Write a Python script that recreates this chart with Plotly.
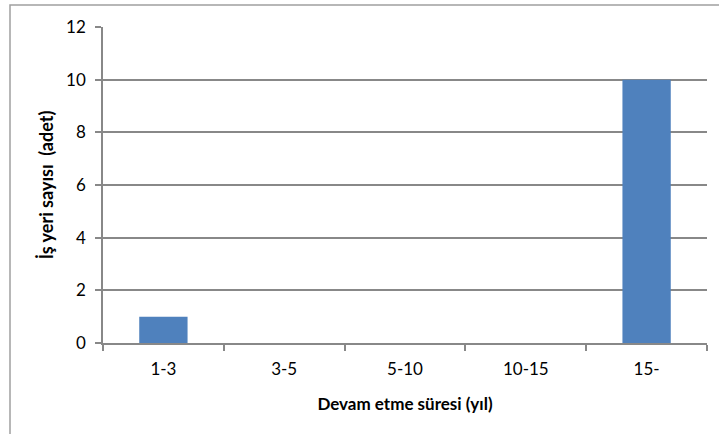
import plotly.graph_objects as go

categories = ["1-3", "3-5", "5-10", "10-15", "15-"]
values = [1, 0, 0, 0, 10]
y_ticks = [0, 2, 4, 6, 8, 10, 12]

W, H = 719, 434
L, R, T, B = 103, 12, 27, 91
pw = W - L - R
ph = H - T - B

fig = go.Figure(go.Bar(x=categories, y=values, marker=dict(color="#4F81BD", line=dict(width=0)), width=0.4))

font = "Lato, 'Open Sans', sans-serif"
fig.update_layout(
    width=W, height=H,
    margin=dict(l=L, r=R, t=T, b=B, autoexpand=False),
    paper_bgcolor="white", plot_bgcolor="white",
    font=dict(family=font, size=17, color="black"),
    showlegend=False,
    xaxis=dict(
        automargin=False,
        showline=True, linecolor="#888888", linewidth=1.5,
        ticks="outside", tickson="boundaries", ticklen=6, tickcolor="#888888", tickwidth=1.5,
        showgrid=False, ticklabelstandoff=10,
        title=dict(text="<b>Devam etme süresi (yıl)</b>", font=dict(size=17), standoff=20),
    ),
    yaxis=dict(
        automargin=False,
        range=[0, 12], tickvals=y_ticks,
        showline=True, linecolor="#888888", linewidth=1.5,
        ticks="outside", ticklen=6, tickcolor="#888888", tickwidth=1.5,
        showgrid=True, gridcolor="#888888", gridwidth=1.5,
        zeroline=False, ticklabelstandoff=6,
        title=dict(text="<b>İş yeri sayısı  (adet)</b>", font=dict(size=18), standoff=8),
    ),
    shapes=[dict(type="rect", xref="paper", yref="paper",
                 x0=(10 - L) / pw, x1=(W + 10 - L) / pw,
                 y0=(T + ph - (H + 10)) / ph, y1=(T + ph - 5) / ph,
                 line=dict(color="#a0a0a0", width=1.5), layer="above")],
)

fig.write_html("out.html", config={"displayModeBar": False},
               post_script="document.body.style.margin='0';document.body.style.overflow='hidden';")
